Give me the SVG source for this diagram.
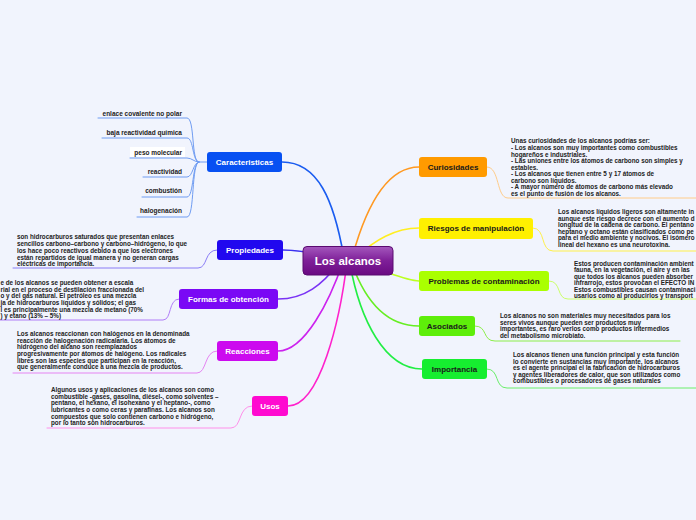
<svg xmlns="http://www.w3.org/2000/svg" width="696" height="520" viewBox="0 0 696 520">
<defs>
<linearGradient id="cg" x1="0" y1="0" x2="0" y2="1">
<stop offset="0" stop-color="#a457bd"/>
<stop offset="0.5" stop-color="#7e1f98"/>
<stop offset="1" stop-color="#6a0a82"/>
</linearGradient>
</defs>
<style>
.bg{fill:#f1f4fd}
.lbl{font-family:"Liberation Sans",Arial,sans-serif;font-weight:bold;font-size:8px}
.w{fill:#ffffff}
.k{fill:#1a1a1a}
.leaf{font-family:"Liberation Sans",Arial,sans-serif;font-weight:bold;font-size:6.5px;fill:#222}
.body{font-family:"Liberation Sans",Arial,sans-serif;font-weight:bold;font-size:6.3px;fill:#222}
.c{fill:none;stroke-width:1.6;stroke-linecap:round}
.u{fill:none;stroke-width:1;stroke-linecap:round}
</style>
<rect class="bg" x="0" y="0" width="696" height="520"/>
<g id="connectors">
<path class="c" stroke="#1a5cf0" d="M282,162 C318,162 334,200 344,258"/>
<path class="c" stroke="#3a30f0" d="M283,250 C300,250 320,254 340,258"/>
<path class="c" stroke="#7a33f5" d="M278,299 C305,299 322,285 340,262"/>
<path class="c" stroke="#cc22ee" d="M278,351 C305,351 330,300 343,262"/>
<path class="c" stroke="#ff22cc" d="M288,406 C320,406 340,320 347,262"/>
<path class="c" stroke="#ff9922" d="M419,167 C385,167 365,210 352,258"/>
<path class="c" stroke="#ffee22" d="M419,228 C395,228 375,240 355,258"/>
<path class="c" stroke="#bbff22" d="M419,281 C405,281 385,270 355,262"/>
<path class="c" stroke="#66ee22" d="M419,326 C385,326 365,300 352,264"/>
<path class="c" stroke="#22ee44" d="M422,369 C385,369 360,320 350,264"/>
<g stroke="#6f9cf2">
<path class="u" d="M98,118 L187,118 C195,118 191,162 199,162 L207,162"/>
<path class="u" d="M102,138 L187,138 C194,138 192,162 199,162"/>
<path class="u" d="M130,158 L187,158 C192,158 194,162 199,162"/>
<path class="u" d="M143,177 L187,177 C193,177 193,162 199,162"/>
<path class="u" d="M142,197 L187,197 C194,197 192,162 199,162"/>
<path class="u" d="M137,217 L187,217 C195,217 191,162 199,162"/>
</g>
<path class="u" stroke="#8a7cf6" d="M13,268 L198,268 C208,268 204,250 217,250"/>
<path class="u" stroke="#b07cf8" d="M0,320 L163,320 C172,320 168,299 179,299"/>
<path class="u" stroke="#e584f2" d="M13,373 L197,373 C207,373 204,351 217,351"/>
<path class="u" stroke="#ff90ea" d="M47,428 L231,428 C242,428 238,406 252,406"/>
<path class="u" stroke="#ffcc8a" d="M487,167 C500,167 496,198 508,198 L696,198"/>
<path class="u" stroke="#fff04a" d="M533,228 C546,228 540,251 553,251 L696,251"/>
<path class="u" stroke="#ccff6a" d="M549,281 C562,281 556,299 568,299 L696,299"/>
<path class="u" stroke="#8cee4a" d="M475,326 C488,326 482,341 495,341 L680,341"/>
<path class="u" stroke="#6aee6a" d="M487,369 C500,369 494,388 507,388 L696,388"/>
</g>
<g id="center">
<rect x="303" y="246.5" width="90" height="28.5" rx="4" fill="url(#cg)" stroke="#5a0a70" stroke-width="1"/>
<text x="348" y="265" text-anchor="middle" class="lbl w" style="font-size:11.5px">Los alcanos</text>
</g>
<g id="caracteristicas">
<rect x="207" y="152" width="75" height="20" rx="3" fill="#0750f2"/>
<text x="244.5" y="164.8" text-anchor="middle" class="lbl w">Caracteristicas</text>
</g>
<g id="leaf-enlace"><text x="182" y="115.5" text-anchor="end" class="leaf">enlace covalente no polar</text></g>
<g id="leaf-baja"><text x="182" y="135" text-anchor="end" class="leaf">baja reactividad química</text></g>
<g id="leaf-peso"><rect x="130" y="147" width="55" height="10" fill="#ffffff"/><text x="182" y="154.5" text-anchor="end" class="leaf">peso molecular</text></g>
<g id="leaf-reactividad"><text x="182" y="173.5" text-anchor="end" class="leaf">reactividad</text></g>
<g id="leaf-combustion"><text x="182" y="193" text-anchor="end" class="leaf">combustión</text></g>
<g id="leaf-halogenacion"><text x="182" y="212.5" text-anchor="end" class="leaf">halogenación</text></g>
<g id="propiedades">
<rect x="217" y="240" width="66" height="20" rx="3" fill="#2108ef"/>
<text x="250" y="252.8" text-anchor="middle" class="lbl w">Propiedades</text>
</g>
<g id="propiedades-text">
<text class="body" x="17" y="239">son hidrocarburos saturados que presentan enlaces</text>
<text class="body" x="17" y="246">sencillos carbono–carbono y carbono–hidrógeno, lo que</text>
<text class="body" x="17" y="253">los hace poco reactivos debido a que los electrones</text>
<text class="body" x="17" y="259.5">están repartidos de igual manera y no generan cargas</text>
<text class="body" x="17" y="266">eléctricas de importancia.</text>
</g>
<g id="formas">
<rect x="179" y="289" width="99" height="20" rx="3" fill="#7a08f5"/>
<text x="228.5" y="301.8" text-anchor="middle" class="lbl w">Formas de obtención</text>
</g>
<g id="formas-text">
<text class="body" x="0.5" y="285">e de los alcanos se pueden obtener a escala</text>
<text class="body" x="0.5" y="291.5">rial en el proceso de destilación fraccionada del</text>
<text class="body" x="0.5" y="298">o y del gas natural. El petróleo es una mezcla</text>
<text class="body" x="0.5" y="305">ja de hidrocarburos líquidos y sólidos; el gas</text>
<text class="body" x="0.5" y="311.5">l es principalmente una mezcla de metano (70%</text>
<text class="body" x="0.5" y="318">) y etano (13% – 5%)</text>
</g>
<g id="reacciones">
<rect x="217" y="341" width="61" height="20" rx="3" fill="#cc0aef"/>
<text x="247.5" y="353.8" text-anchor="middle" class="lbl w">Reacciones</text>
</g>
<g id="reacciones-text">
<text class="body" x="17" y="336">Los alcanos reaccionan con halógenos en la denominada</text>
<text class="body" x="17" y="343">reacción de halogenación radicalaria. Los átomos de</text>
<text class="body" x="17" y="349">hidrógeno del alcano son reemplazados</text>
<text class="body" x="17" y="356">progresivamente por átomos de halógeno. Los radicales</text>
<text class="body" x="17" y="362.5">libres son las especies que participan en la reacción,</text>
<text class="body" x="17" y="369">que generalmente conduce a una mezcla de productos.</text>
</g>
<g id="usos">
<rect x="252" y="396" width="36" height="20" rx="3" fill="#ff0ad0"/>
<text x="270" y="408.8" text-anchor="middle" class="lbl w">Usos</text>
</g>
<g id="usos-text">
<text class="body" x="51" y="392">Algunos usos y aplicaciones de los alcanos son como</text>
<text class="body" x="51" y="398.5">combustible -gases, gasolina, diésel-, como solventes –</text>
<text class="body" x="51" y="405">pentano, el hexano, el isohexano y el heptano-, como</text>
<text class="body" x="51" y="412">lubricantes o como ceras y parafinas. Los alcanos son</text>
<text class="body" x="51" y="418.5">compuestos que solo contienen carbono e hidrógeno,</text>
<text class="body" x="51" y="425">por lo tanto son hidrocarburos.</text>
</g>
<g id="curiosidades">
<rect x="419" y="157" width="68" height="20" rx="3" fill="#ff9a00"/>
<text x="453" y="169.8" text-anchor="middle" class="lbl k">Curiosidades</text>
</g>
<g id="curiosidades-text">
<text class="body" x="511" y="143">Unas curiosidades de los alcanos podrías ser:</text>
<text class="body" x="511" y="150">- Los alcanos son muy importantes como combustibles</text>
<text class="body" x="511" y="156.5">hogareños e industriales.</text>
<text class="body" x="511" y="163">- Las uniones entre los átomos de carbono son simples y</text>
<text class="body" x="511" y="169.5">estables.</text>
<text class="body" x="511" y="176">- Los alcanos que tienen entre 5 y 17 átomos de</text>
<text class="body" x="511" y="182.5">carbono son líquidos.</text>
<text class="body" x="511" y="189">- A mayor número de átomos de carbono más elevado</text>
<text class="body" x="511" y="195.5">es el punto de fusión de los alcanos.</text>
</g>
<g id="riesgos">
<rect x="419" y="218" width="114" height="21" rx="3" fill="#fff000"/>
<text x="476" y="231.3" text-anchor="middle" class="lbl k">Riesgos de manipulación</text>
</g>
<g id="riesgos-text">
<text class="body" x="558" y="214">Los alcanos líquidos ligeros son altamente in</text>
<text class="body" x="558" y="220.5">aunque este riesgo decrece con el aumento d</text>
<text class="body" x="558" y="227">longitud de la cadena de carbono. El pentano</text>
<text class="body" x="558" y="233.5">heptano y octano están clasificados como pe</text>
<text class="body" x="558" y="240">para el medio ambiente y nocivos. El isómero</text>
<text class="body" x="558" y="247">lineal del hexano es una neurotoxina.</text>
</g>
<g id="problemas">
<rect x="419" y="271" width="130" height="20" rx="3" fill="#aaff00"/>
<text x="484" y="283.8" text-anchor="middle" class="lbl k">Problemas de contaminación</text>
</g>
<g id="problemas-text">
<text class="body" x="574" y="266">Estos producen contaminación ambient</text>
<text class="body" x="574" y="272">fauna, en la vegetación, el aire y en las</text>
<text class="body" x="574" y="278.5">que todos los alcanos pueden absorber</text>
<text class="body" x="574" y="285">infrarrojo, estos provocan el EFECTO IN</text>
<text class="body" x="574" y="291.5">Estos combustibles causan contaminaci</text>
<text class="body" x="574" y="298">usarios como al producirlos y transport</text>
</g>
<g id="asociados">
<rect x="419" y="316" width="56" height="20" rx="3" fill="#5eee0a"/>
<text x="447" y="328.8" text-anchor="middle" class="lbl k">Asociados</text>
</g>
<g id="asociados-text">
<text class="body" x="500" y="318">Los alcanos no son materiales muy necesitados para los</text>
<text class="body" x="500" y="324.5">seres vivos aunque pueden ser productos muy</text>
<text class="body" x="500" y="331">importantes, es raro verlos como productos intermedios</text>
<text class="body" x="500" y="337.5">del metabolismo microbiato.</text>
</g>
<g id="importancia">
<rect x="422" y="359" width="65" height="20" rx="3" fill="#16ee30"/>
<text x="454.5" y="371.8" text-anchor="middle" class="lbl k">Importancia</text>
</g>
<g id="importancia-text">
<text class="body" x="513" y="357">Los alcanos tienen una función principal y esta función</text>
<text class="body" x="513" y="363.5">lo convierte en sustancias muy importante, los alcanos</text>
<text class="body" x="513" y="370">es el agente principal el la fabricación de hidrocarburos</text>
<text class="body" x="513" y="377">y agentes liberadores de calor, que son utilizados como</text>
<text class="body" x="513" y="383">combustibles o procesadores de gases naturales</text>
</g>
</svg>
